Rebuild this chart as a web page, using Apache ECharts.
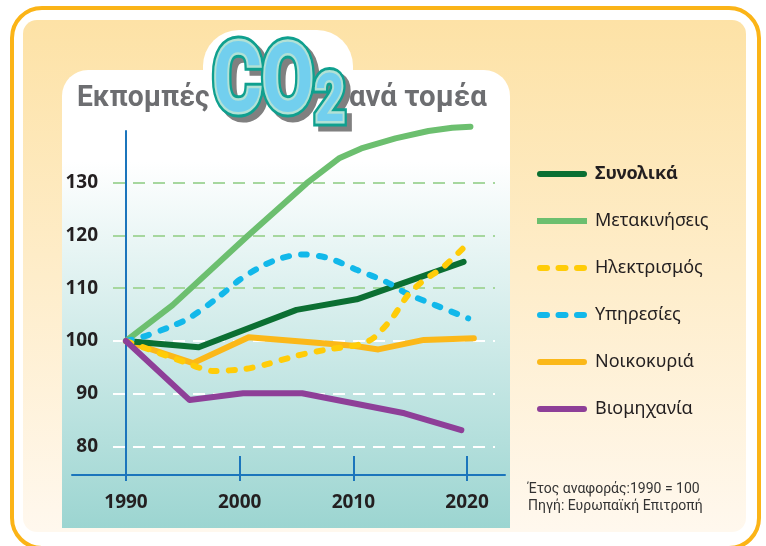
<!DOCTYPE html>
<html>
<head>
<meta charset="utf-8">
<title>Εκπομπές CO2 ανά τομέα</title>
<script src="https://cdn.jsdelivr.net/npm/echarts@6/dist/echarts.min.js"></script>
<style>
  html, body { margin: 0; padding: 0; background: #fff; }
  #chart { width: 766px; height: 546px; }
</style>
</head>
<body>
<div id="chart"></div>
<script>
// index values, 1990 = 100 as [year, value]
let total = [[1990, 100], [1996.4, 98.8], [2005, 105.9], [2010.3, 107.9], [2019.7, 115]];
let transport = [[1990, 100], [1994.1, 106.8], [2000.6, 119.7], [2005.9, 129.9], [2008.8, 134.7],
  [2010.7, 136.5], [2013.7, 138.4], [2016.6, 139.8], [2018.7, 140.4], [2020.3, 140.6]];
let electricity = [[1990, 100], [1995, 96.1], [1997.7, 94.3], [2000.5, 94.7], [2002.4, 95.6], [2005, 97.2],
  [2007.5, 98.3], [2010.7, 99.4], [2011.8, 100.6], [2013.4, 104.3], [2014.8, 108.7], [2016.2, 111.5],
  [2017.8, 113.8], [2019.8, 117.9]];
let services = [[1990, 100], [1991.5, 100.8], [1993.9, 102.7], [1995.6, 104.4], [1998, 108.1], [2000, 111.6],
  [2001.8, 114], [2003.5, 115.6], [2005.5, 116.4], [2007.8, 115.7], [2010.4, 113.4], [2012.9, 111.2],
  [2014.7, 109], [2017.2, 106.8], [2020.1, 104.3]];
let households = [[1990, 100], [1995.9, 95.8], [2000.8, 100.7], [2010, 99.1], [2012.2, 98.4], [2016.2, 100.2], [2020.6, 100.5]];
let industry = [[1990, 100], [1995.6, 88.8], [2000.3, 90.1], [2005.5, 90.1], [2014.5, 86.3], [2019.5, 83.1]];

let sectorNames = ['Συνολικά', 'Μετακινήσεις', 'Ηλεκτρισμός', 'Υπηρεσίες', 'Νοικοκυριά', 'Βιομηχανία'];
let yearTicks = [1990, 2000, 2010, 2020];
let valueTicks = [80, 90, 100, 110, 120, 130];

let blue = '#1b75bc';
let ink = '#231f20';

let pill = 'path://M3,0H47A3,3,0,0,1,47,6H3A3,3,0,0,1,3,0Z';
let bar = 'path://M0,0H50V6H0Z';
let dashes = 'path://M3,0H10A3,3,0,0,1,10,6H3A3,3,0,0,1,3,0Z' +
  'M21.5,0H28.5A3,3,0,0,1,28.5,6H21.5A3,3,0,0,1,21.5,0Z' +
  'M40,0H47A3,3,0,0,1,47,6H40A3,3,0,0,1,40,0Z';
let legendIcons = [pill, bar, dashes, dashes, pill, pill];

let chart = echarts.init(document.getElementById('chart'));

function sector(name, data, color, dashed, smooth) {
  return {
    name: name,
    type: 'line',
    xAxisIndex: 0,
    yAxisIndex: 0,
    data: data,
    symbol: 'none',
    clip: false,
    smooth: smooth || false,
    color: color,
    lineStyle: {
      width: 6,
      cap: 'round',
      join: 'round',
      type: dashed ? [6, 12] : 'solid'
    }
  };
}

// the CO2 logo: grey shadow, teal outline, pale rim, blue fill
function logoText(text, x, y, size, layer) {
  let looks = [
    { dx: 5, dy: 5, fill: '#808080', stroke: '#808080', lineWidth: 11 },
    { dx: 0, dy: 0, fill: '#0fa08f', stroke: '#0fa08f', lineWidth: 11 },
    { dx: 0, dy: 0, fill: '#72cfee', stroke: '#b2e1d6', lineWidth: 5 }
  ][layer];
  return {
    type: 'text', z: 5 + layer, x: x + looks.dx, y: y + looks.dy, scaleX: 0.78,
    style: {
      text: text, font: 'bold ' + size + 'px Roboto', fill: looks.fill,
      stroke: looks.stroke, lineWidth: looks.lineWidth, verticalAlign: 'middle'
    }
  };
}

let graphics = [
  {
    type: 'rect', z: 0,
    shape: { x: 12, y: 8, width: 747, height: 540, r: 30 },
    style: { fill: '#fff', stroke: '#fbb417', lineWidth: 4 }
  },
  {
    type: 'rect', z: 0,
    shape: { x: 23, y: 20, width: 723, height: 512, r: 14 },
    style: {
      fill: new echarts.graphic.LinearGradient(0, 0, 0, 1, [
        { offset: 0, color: '#fde2a6' },
        { offset: 1, color: '#fff8ee' }
      ])
    }
  },
  {
    type: 'rect', z: 0,
    shape: { x: 62, y: 70, width: 448, height: 458, r: [26, 26, 0, 0] },
    style: {
      fill: new echarts.graphic.LinearGradient(0, 0, 0, 1, [
        { offset: 0, color: '#ffffff' },
        { offset: 0.2, color: '#ffffff' },
        { offset: 1, color: '#9cd5d1' }
      ])
    }
  },
  {
    type: 'rect', z: 0,
    shape: { x: 203, y: 30, width: 150, height: 80, r: 36 },
    style: { fill: '#fff' }
  },
  {
    type: 'text', z: 5, x: 77, y: 98, scaleX: 0.94,
    style: { text: 'Εκπομπές', font: 'bold 30px Roboto', fill: '#6d6e71', verticalAlign: 'middle' }
  },
  {
    type: 'text', z: 5, x: 349, y: 98, scaleX: 0.98,
    style: { text: 'ανά τομέα', font: 'bold 30px Roboto', fill: '#6d6e71', verticalAlign: 'middle' }
  },
  {
    type: 'text', z: 5, x: 528, y: 489,
    style: { text: 'Έτος αναφοράς:1990 = 100', font: '14px Roboto', fill: '#333', verticalAlign: 'middle' }
  },
  {
    type: 'text', z: 5, x: 528, y: 506,
    style: { text: 'Πηγή: Ευρωπαϊκή Επιτροπή', font: '14px Roboto', fill: '#333', verticalAlign: 'middle' }
  }
];
for (let layer = 0; layer < 3; layer++) {
  graphics.push(logoText('CO', 213, 87, 96, layer));
  graphics.push(logoText('2', 315, 104, 66, layer));
}

let option = {
  animation: false,
  textStyle: { fontFamily: 'Noto Sans' },
  graphic: graphics,
  legend: {
    orient: 'vertical',
    left: 532,
    top: 158,
    itemWidth: 50,
    itemHeight: 6,
    itemGap: 25,
    itemStyle: { borderWidth: 0 },
    textStyle: { fontFamily: 'Noto Sans', fontSize: 18, color: ink, lineHeight: 22, padding: [0, 0, 0, 3] },
    data: sectorNames.map(function (name, i) {
      let item = { name: name, icon: legendIcons[i] };
      if (i === 0) item.textStyle = { fontWeight: 'bold' };
      return item;
    })
  },
  grid: [
    { left: 113, right: 271, top: 131, bottom: 71 },
    { left: 72, right: 261, top: 131, bottom: 71 }
  ],
  xAxis: [
    {
      gridIndex: 0,
      type: 'value',
      min: 1988.86,
      max: 2022.46,
      axisLine: { show: false },
      axisTick: { customValues: yearTicks, length: 6, lineStyle: { color: blue, width: 2 } },
      axisLabel: { show: false },
      splitLine: { show: false }
    },
    {
      gridIndex: 1,
      type: 'value',
      min: 1985.25,
      max: 2023.34,
      axisLine: { lineStyle: { color: blue, width: 2 } },
      axisTick: { customValues: [2000, 2010, 2020], inside: true, length: 19, lineStyle: { color: blue, width: 2 } },
      axisLabel: {
        customValues: yearTicks,
        formatter: function (v) { return String(v); },
        margin: 18,
        fontFamily: 'Open Sans',
        fontSize: 19,
        fontWeight: 'bold',
        color: ink
      },
      splitLine: { show: false }
    }
  ],
  yAxis: [
    {
      gridIndex: 0,
      type: 'value',
      min: 74.6,
      max: 139.8,
      offset: -13,
      axisLine: { show: true, lineStyle: { color: blue, width: 2 } },
      axisTick: { show: false, customValues: valueTicks },
      axisLabel: {
        customValues: valueTicks,
        margin: 28,
        fontFamily: 'Open Sans',
        fontSize: 19,
        fontWeight: 'bold',
        color: ink
      },
      splitLine: {
        show: true,
        lineStyle: {
          color: ['#ffffff', '#ffffff', '#ffffff', '#a6d79e', '#a6d79e', '#a6d79e'],
          width: 2,
          type: [12, 8]
        }
      }
    },
    {
      gridIndex: 1,
      type: 'value',
      min: 74.6,
      max: 139.8,
      show: false
    }
  ],
  series: [
    sector('Μετακινήσεις', transport, '#6cbf6f', false, false),
    sector('Νοικοκυριά', households, '#fbb819', false, false),
    sector('Συνολικά', total, '#0b6f32', false, false),
    sector('Υπηρεσίες', services, '#12b8ea', true, 0.3),
    sector('Ηλεκτρισμός', electricity, '#ffcc08', true, 0.25),
    sector('Βιομηχανία', industry, '#8e3f98', false, false)
  ]
};

chart.setOption(option);
</script>
</body>
</html>
